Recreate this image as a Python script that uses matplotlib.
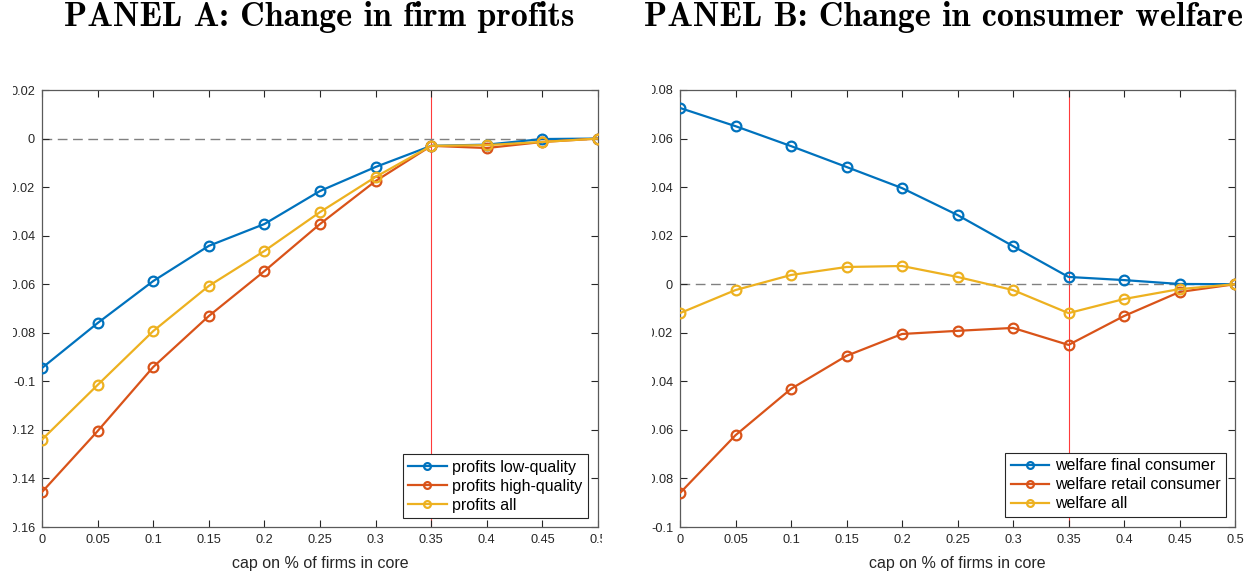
import matplotlib
matplotlib.use("Agg")
import matplotlib.pyplot as plt
from matplotlib.patches import Rectangle

# cap on % of firms in core
caps = [0, 0.05, 0.1, 0.15, 0.2, 0.25, 0.3, 0.35, 0.4, 0.45, 0.5]
cap_line = 0.35

# Panel A: change in firm profits
profits_low = [-0.0945, -0.076, -0.0587, -0.0442, -0.0352, -0.0216, -0.0117, -0.003, -0.0025, -0.0002, 0.0]
profits_high = [-0.1456, -0.1205, -0.0941, -0.0731, -0.0546, -0.0352, -0.0175, -0.003, -0.0039, -0.0014, 0.0]
profits_all = [-0.124, -0.1015, -0.0793, -0.0607, -0.0463, -0.0303, -0.0158, -0.003, -0.0027, -0.0014, 0.0]

# Panel B: change in consumer welfare
welfare_final = [0.0726, 0.0651, 0.0569, 0.0483, 0.0396, 0.0285, 0.0157, 0.003, 0.0017, 0.0001, 0.0]
welfare_retail = [-0.086, -0.0622, -0.0431, -0.0295, -0.0205, -0.0192, -0.018, -0.025, -0.0131, -0.0032, 0.0]
welfare_all = [-0.0119, -0.0024, 0.0038, 0.0071, 0.0075, 0.003, -0.0024, -0.0119, -0.0061, -0.002, 0.0]

xtick_labels = ['0', '0.05', '0.1', '0.15', '0.2', '0.25', '0.3', '0.35', '0.4', '0.45', '0.5']
yticks_a = [0.02, 0, -0.02, -0.04, -0.06, -0.08, -0.1, -0.12, -0.14, -0.16]
ytick_labels_a = ['0.02', '0', '-0.02', '-0.04', '-0.06', '-0.08', '-0.1', '-0.12', '-0.14', '-0.16']
yticks_b = [0.08, 0.06, 0.04, 0.02, 0, -0.02, -0.04, -0.06, -0.08, -0.1]
ytick_labels_b = ['0.08', '0.06', '0.04', '0.02', '0', '-0.02', '-0.04', '-0.06', '-0.08', '-0.1']

colors = ['#0072BD', '#D95319', '#EDB120']

plt.rcParams['font.family'] = ['Liberation Sans', 'DejaVu Sans']

fig = plt.figure(figsize=(12.5, 5.71), dpi=100)
ax_a = fig.add_axes([42 / 1250, 1 - 527 / 571, 556 / 1250, 437 / 571])
ax_b = fig.add_axes([680 / 1250, 1 - 527 / 571, 555 / 1250, 437 / 571])


def draw_panel(ax, series, labels, yticks, ytick_labels, legend_anchor):
    ax.axvline(cap_line, color='#ff3b3b', lw=0.8, zorder=1)
    ax.axhline(0, color='#808080', lw=1.0, ls=(0, (7, 4)), zorder=1)
    for ys, lab, c in zip(series, labels, colors):
        ax.plot(caps, ys, color=c, lw=1.6, marker='o', markersize=7,
                markerfacecolor='none', markeredgewidth=1.6, label=lab, zorder=3)
    ax.set_xlim(0, 0.5)
    ax.set_ylim(yticks[-1], yticks[0])
    ax.set_xticks(caps)
    ax.set_xticklabels(xtick_labels)
    ax.set_yticks(yticks)
    ax.set_yticklabels(ytick_labels)
    ax.tick_params(direction='in', length=5, width=0.8, top=True, right=True,
                   labelsize=9.2, colors='#262626', pad=5)
    for sp in ax.spines.values():
        sp.set_color('#5a5a5a')
        sp.set_linewidth(0.9)
    ax.set_xlabel('cap on % of firms in core', fontsize=11.5, color='#262626', labelpad=7)
    leg = ax.legend(loc='lower right', bbox_to_anchor=legend_anchor, fontsize=11.5,
                    frameon=True, fancybox=False, framealpha=1, edgecolor='#262626',
                    handlelength=2.4, handletextpad=0.35, labelspacing=0.25,
                    borderpad=0.35, borderaxespad=0, markerscale=0.7)
    leg.get_frame().set_linewidth(0.8)


draw_panel(ax_a, [profits_low, profits_high, profits_all],
           ['profits low-quality', 'profits high-quality', 'profits all'],
           yticks_a, ytick_labels_a, (0.982, 0.02))
draw_panel(ax_b, [welfare_final, welfare_retail, welfare_all],
           ['welfare final consumer', 'welfare retail consumer', 'welfare all'],
           yticks_b, ytick_labels_b, (0.984, 0.023))

# white strips where the original panels were cropped
for x0, x1 in [(0, 13), (602, 652), (1247, 1250)]:
    fig.add_artist(Rectangle((x0 / 1250, 0), (x1 - x0) / 1250, 1 - 60 / 571,
                             transform=fig.transFigure, facecolor='white',
                             edgecolor='none', zorder=10))

fig.text(319 / 1250, 1 - 26 / 571, 'PANEL A: Change in firm profits', family='cmb10',
         fontsize=24.5, ha='center', va='baseline')
fig.text(944 / 1250, 1 - 26 / 571, 'PANEL B: Change in consumer welfare', family='cmb10',
         fontsize=24.5, ha='center', va='baseline')

fig.savefig('out.png', dpi=100)
